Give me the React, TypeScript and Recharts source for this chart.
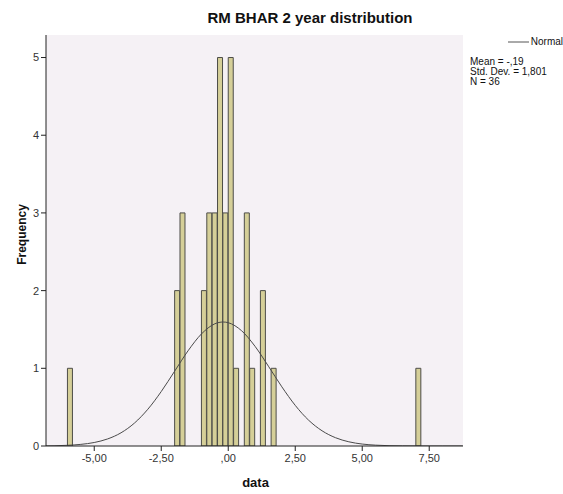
import React from "react";
import { ComposedChart, Bar, Line, XAxis, YAxis, CartesianGrid, Legend } from "recharts";

// histogram bins (width 0.2)
const binCenters = [-5.9, -1.9, -1.7, -0.9, -0.7, -0.5, -0.3, -0.1, 0.1, 0.3, 0.7, 0.9, 1.3, 1.7, 7.1];
const binCounts = [1, 2, 3, 2, 3, 3, 5, 3, 5, 1, 3, 1, 2, 1, 1];

// normal curve
const curveX = [
  -6.8, -6.5, -6, -5.5, -5, -4.5, -4, -3.5, -3, -2.5, -2, -1.5, -1, -0.5, -0.19, 0, 0.5, 1, 1.5, 2, 2.5,
  3, 3.5, 4, 4.5, 5, 5.5, 6, 6.5, 7, 7.5, 8, 8.75,
];
const curveY = [
  0.002, 0.003, 0.009, 0.021, 0.045, 0.091, 0.17, 0.295, 0.473, 0.701, 0.963, 1.225, 1.442, 1.573, 1.596,
  1.587, 1.483, 1.283, 1.027, 0.762, 0.523, 0.332, 0.196, 0.107, 0.054, 0.025, 0.011, 0.004, 0.002, 0.001,
  0, 0, 0,
];

const xTicks = [-5, -2.5, 0, 2.5, 5, 7.5];
const yTicks = [0, 1, 2, 3, 4, 5];
const stats = ["Mean = -,19", "Std. Dev. = 1,801", "N = 36"];

const xDomain = [-6.8, 8.76];
const yDomain = [0, 5.29];

const font = "'Liberation Sans', Arial, sans-serif";
const ink = "#333333";

const histData = binCenters.map((x, i) => ({ x, count: binCounts[i] }));
const curveData = curveX.map((x, i) => ({ x, normal: curveY[i] }));

// SPSS style numbers: comma decimals, no leading zero
const fmt = (v: number) => v.toFixed(2).replace(".", ",").replace(/^(-?)0,/, "$1,");

const YLabel = ({ viewBox }: any) => {
  const cx = viewBox.x + 22;
  const cy = viewBox.y + viewBox.height / 2 - 6;
  return (
    <text
      x={cx}
      y={cy}
      transform={`rotate(-90, ${cx}, ${cy})`}
      textAnchor="middle"
      dominantBaseline="central"
      fontFamily={font}
      fontWeight="bold"
      fontSize={12}
      fill="#111"
    >
      Frequency
    </text>
  );
};

const XLabel = ({ viewBox }: any) => (
  <text
    x={viewBox.x + viewBox.width / 2 + 1}
    y={viewBox.y + viewBox.height + 11}
    textAnchor="middle"
    fontFamily={font}
    fontWeight="bold"
    fontSize={13}
    fill="#111"
  >
    data
  </text>
);

const LegendBox = () => (
  <div style={{ fontFamily: font, fontSize: 10, color: "#111", lineHeight: "10px" }}>
    <div style={{ display: "flex", alignItems: "center", marginLeft: 38 }}>
      <svg width={21} height={6}>
        <line x1={0} y1={3} x2={21} y2={3} stroke="#555" strokeWidth={1} />
      </svg>
      <span style={{ marginLeft: 2 }}>Normal</span>
    </div>
    <div style={{ marginTop: 10 }}>
      {stats.map((s) => (
        <div key={s}>{s}</div>
      ))}
    </div>
  </div>
);

export default function App() {
  return (
    <div style={{ position: "absolute", left: 0, top: 0, width: 563, height: 494, background: "#fff" }}>
      <div
        style={{
          position: "absolute",
          left: 310,
          top: 10,
          transform: "translateX(-50%)",
          whiteSpace: "nowrap",
          fontFamily: font,
          fontWeight: "bold",
          fontSize: 15,
          lineHeight: "15px",
          color: "#111",
        }}
      >
        RM BHAR 2 year distribution
      </div>
      <ComposedChart
        width={563}
        height={494}
        data={histData}
        margin={{ top: 35, right: 100, bottom: 18, left: 0 }}
        style={{ position: "absolute", left: 0, top: 0 }}
      >
        <CartesianGrid fill="#F5F1F5" horizontal={false} vertical={false} />
        <XAxis
          dataKey="x"
          type="number"
          domain={xDomain}
          ticks={xTicks}
          tickFormatter={fmt}
          allowDataOverflow
          height={30}
          tickSize={5}
          tickMargin={3}
          stroke={ink}
          axisLine={{ stroke: "#222" }}
          tickLine={{ stroke: "#222" }}
          tick={{ fill: ink, fontSize: 11, fontFamily: font }}
          label={<XLabel />}
        />
        {/* curve gets its own x axis (drawn as the top frame) so it doesn't shrink the bar band */}
        <XAxis
          xAxisId="curve"
          dataKey="x"
          orientation="top"
          type="number"
          domain={xDomain}
          allowDataOverflow
          height={0}
          tick={false}
          tickLine={false}
          axisLine={{ stroke: "#222" }}
        />
        <YAxis
          type="number"
          domain={yDomain}
          ticks={yTicks}
          allowDataOverflow
          width={46}
          tickSize={5}
          tickMargin={2}
          axisLine={{ stroke: "#222" }}
          tickLine={{ stroke: "#222" }}
          tick={{ fill: ink, fontSize: 11, fontFamily: font }}
          label={<YLabel />}
        />
        <YAxis
          yAxisId="right"
          orientation="right"
          type="number"
          domain={yDomain}
          width={0}
          tick={false}
          tickLine={false}
          axisLine={{ stroke: "#222" }}
        />
        <Bar
          dataKey="count"
          barSize={5}
          fill="#D5CF98"
          stroke="#4d4d48"
          strokeWidth={1}
          legendType="none"
          isAnimationActive={false}
        />
        <Line
          xAxisId="curve"
          data={curveData}
          dataKey="normal"
          name="Normal"
          type="monotone"
          stroke="#4a4a4a"
          strokeWidth={1}
          dot={false}
          activeDot={false}
          legendType="line"
          isAnimationActive={false}
        />
        <Legend
          layout="horizontal"
          verticalAlign="middle"
          align="center"
          content={<LegendBox />}
          wrapperStyle={{ position: "absolute", left: 470, top: 37, width: 93 }}
        />
      </ComposedChart>
    </div>
  );
}
